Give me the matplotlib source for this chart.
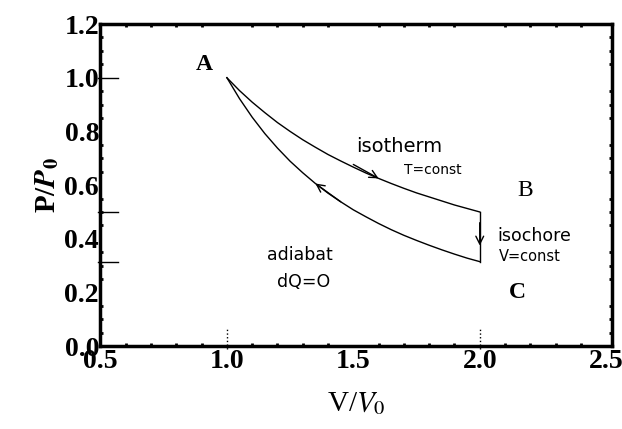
import matplotlib
matplotlib.use("Agg")
import matplotlib.pyplot as plt
from matplotlib.ticker import MultipleLocator

plt.rcParams['mathtext.fontset'] = 'stix'

# values
v_iso = [1.0, 1.05, 1.1, 1.15, 1.2, 1.25, 1.3, 1.35, 1.4, 1.45, 1.5,
         1.55, 1.6, 1.65, 1.7, 1.75, 1.8, 1.85, 1.9, 1.95, 2.0]
p_iso = [1.0, 0.952, 0.909, 0.870, 0.833, 0.800, 0.769, 0.741, 0.714, 0.690, 0.667,
         0.645, 0.625, 0.606, 0.588, 0.571, 0.556, 0.541, 0.526, 0.513, 0.5]
v_adi = [1.0, 1.05, 1.1, 1.15, 1.2, 1.25, 1.3, 1.35, 1.4, 1.45, 1.5,
         1.55, 1.6, 1.65, 1.7, 1.75, 1.8, 1.85, 1.9, 1.95, 2.0]
p_adi = [1.0, 0.922, 0.853, 0.792, 0.738, 0.689, 0.646, 0.606, 0.570, 0.538, 0.508,
         0.482, 0.457, 0.434, 0.413, 0.394, 0.376, 0.359, 0.343, 0.328, 0.315]
v_cho = [2.0, 2.0]
p_cho = [0.5, 0.315]

xticks = [0.5, 1.0, 1.5, 2.0, 2.5]
yticks = [0.0, 0.2, 0.4, 0.6, 0.8, 1.0, 1.2]

serif = ['Liberation Serif', 'DejaVu Serif']
hand = ['DejaVu Sans']

fig = plt.figure(figsize=(6.22, 4.29), dpi=100)
ax = fig.add_axes([0.1615, 0.193, 0.822, 0.751])

ax.plot(v_iso, p_iso, color='black', lw=1.0)
ax.plot(v_adi, p_adi, color='black', lw=1.0)
ax.plot(v_cho, p_cho, color='black', lw=1.0)

arrow = dict(arrowstyle='->', color='black', lw=1.0, mutation_scale=14, shrinkA=0, shrinkB=0)
ax.annotate('', xy=(v_iso[12], p_iso[12]), xytext=(v_iso[10], p_iso[10] + 0.01), arrowprops=arrow)
ax.annotate('', xy=(v_adi[7], p_adi[7]), xytext=(v_adi[9], p_adi[9]), arrowprops=arrow)
ax.annotate('', xy=(2.0, 0.375), xytext=(2.0, 0.46), arrowprops=arrow)

# state labels
ax.text(0.91, 1.05, 'A', fontsize=17, fontweight='bold', family=serif, ha='center', va='center')
ax.text(2.18, 0.58, 'B', fontsize=17, family=serif, ha='center', va='center')
ax.text(2.15, 0.20, 'C', fontsize=17, fontweight='bold', family=serif, ha='center', va='center')

# handwritten notes
ax.text(1.51, 0.745, 'isotherm', fontsize=14, family=hand, ha='left', va='center')
ax.text(1.70, 0.655, 'T=const', fontsize=10, family=hand, ha='left', va='center')
ax.text(2.07, 0.41, 'isochore', fontsize=12.5, family=hand, ha='left', va='center')
ax.text(2.075, 0.335, 'V=const', fontsize=10.5, family=hand, ha='left', va='center')
ax.text(1.16, 0.34, 'adiabat', fontsize=12.5, family=hand, ha='left', va='center')
ax.text(1.20, 0.24, 'dQ=O', fontsize=12.5, family=hand, ha='left', va='center')

# marker ticks crossing the spines
for pv in [1.0, 0.5, 0.315]:
    ax.plot([0.49, 0.57], [pv, pv], color='black', lw=1.0, clip_on=False)
for vv in [1.0, 2.0]:
    ax.plot([vv, vv], [-0.01, 0.07], color='black', lw=1.0, ls=':', clip_on=False)

ax.set_xlim(0.5, 2.522)
ax.set_ylim(0.0, 1.2)
ax.set_xticks(xticks)
ax.set_yticks(yticks)
ax.set_xticklabels(['%.1f' % t for t in xticks], family=serif, fontweight='bold', fontsize=20)
ax.set_yticklabels(['%.1f' % t for t in yticks], family=serif, fontweight='bold', fontsize=20)
ax.xaxis.set_minor_locator(MultipleLocator(0.1))
ax.yaxis.set_minor_locator(MultipleLocator(0.05))
ax.tick_params(which='major', direction='in', length=0, pad=2)
ax.tick_params(which='minor', direction='in', length=2, width=2, top=True, right=True)
ax.tick_params(axis='y', pad=1)

for s in ax.spines.values():
    s.set_linewidth(2.5)

ax.set_xlabel(r'V/$V_0$', fontsize=21, family=serif, labelpad=12)
ax.set_ylabel(r'P/$\mathbfit{P}_\mathbf{0}$', fontsize=21, family=serif, fontweight='bold', labelpad=2)

fig.savefig('out.png', dpi=100)
